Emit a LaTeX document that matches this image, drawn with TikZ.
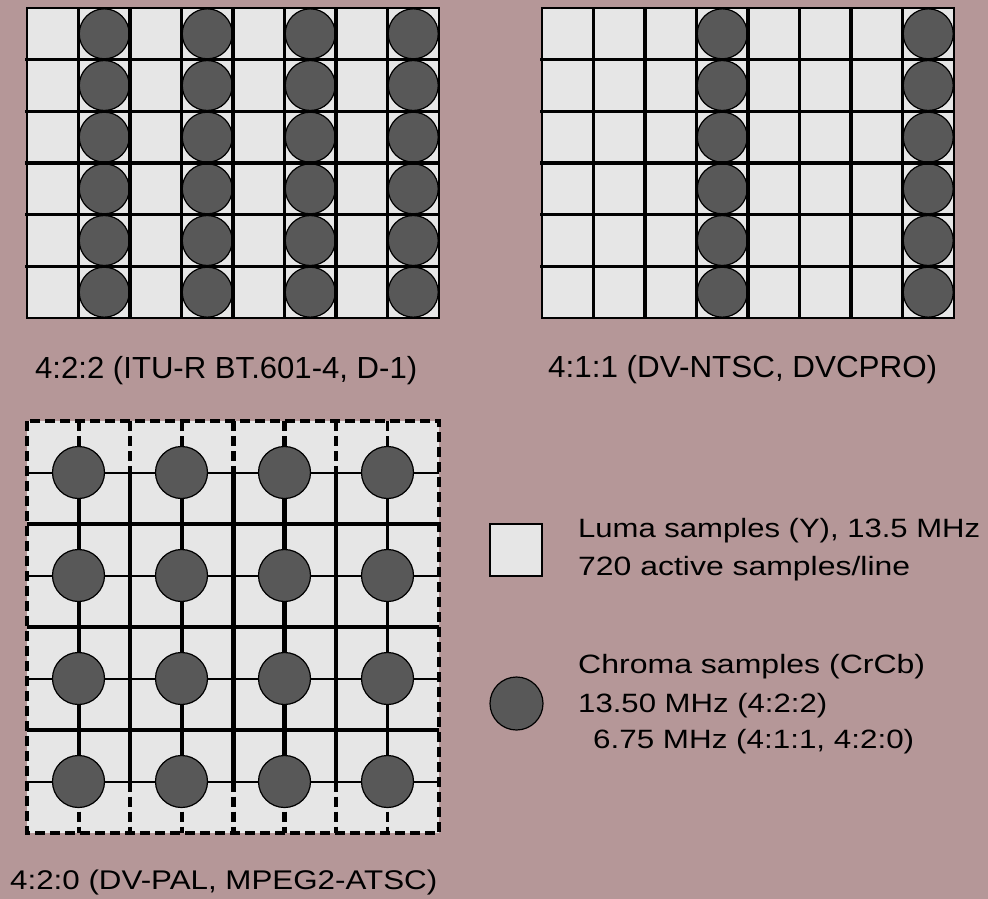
\documentclass[tikz,border=0pt]{standalone}
\usepackage{fontspec}
\setmainfont{Liberation Sans}
\usepackage{graphicx}
\definecolor{bg}{RGB}{181,151,152}
\definecolor{cellgray}{RGB}{230,230,230}
\definecolor{chroma}{RGB}{88,88,88}
\newcommand{\fitto}[3]{\resizebox{#1}{\height}{\fontsize{#2}{#2}\selectfont #3}}
\begin{document}
\begin{tikzpicture}[x=1pt,y=-1pt,
  lbl/.style={inner sep=0pt, anchor=base west, text=black},
  chr/.style={fill=chroma, draw=black, line width=1.2pt},
  gline/.style={draw=black, line width=3.6pt},
  dashline/.style={draw=black, dash pattern=on 10pt off 5pt},
  ]
\fill[bg] (0,0) rectangle (988,899);
\useasboundingbox (0,0) rectangle (988,899);

% ---- top panels ----
\foreach \sx/\cols in {0/{1,3,5,7}, 515/{3,7}} {
  \begin{scope}[xshift=\sx pt]
    \fill[cellgray] (27,8) rectangle (439,318);
    \foreach \c in \cols {
      \foreach \r in {0,...,5} {
        \draw[chr] ({27+51.5*\c+25.75},{8+51.67*\r+25.83}) circle[radius=25pt];
      }
    }
    \foreach \k in {1,...,7} \draw[gline] ({27+51.5*\k},8) -- ({27+51.5*\k},318);
    \foreach \k in {1,...,5} \draw[gline] (25,{8+51.67*\k}) -- (439,{8+51.67*\k});
    \draw[line width=2pt] (27,8) rectangle (439,318);
  \end{scope}
}

% ---- bottom panel ----
\fill[cellgray] (27,421) rectangle (439,833);
\foreach \k/\w in {1/2,2/3.6,3/2,4/3.6,5/2,6/3.6,7/2}
  \draw[draw=black, line width=\w pt] (27,{421+51.5*\k}) -- (439,{421+51.5*\k});
\foreach \k/\w in {1/4,2/3.6,3/4,4/5,5/5,6/3.6,7/3} {
  \draw[draw=black, line width=\w pt] ({27+51.5*\k},472.5) -- ({27+51.5*\k},781.5);
  \draw[dashline, line width=\w pt] ({27+51.5*\k},421) -- ({27+51.5*\k},472.5);
  \draw[dashline, line width=\w pt] ({27+51.5*\k},781.5) -- ({27+51.5*\k},833);
}
\draw[dashline, line width=3.6pt] (27,421) rectangle (439,833);
\foreach \i in {1,3,5,7} {
  \foreach \j in {1,3,5,7} {
    \draw[chr] ({27+51.5*\i},{421+51.5*\j}) circle[radius=26pt];
  }
}

% ---- captions ----
\node[lbl] (cap1) at (35,378) {\fitto{382pt}{30.5}{4:2:2 (ITU-R BT.601-4, D-1)}};
\node[lbl] (cap2) at (548,377) {\fitto{389pt}{30.5}{4:1:1 (DV-NTSC, DVCPRO)}};
\node[lbl] (cap3) at (10,889) {\fitto{427pt}{27}{4:2:0 (DV-PAL, MPEG2-ATSC)}};

% ---- legend ----
\draw[fill=cellgray, draw=black, line width=1.2pt] (490,524) rectangle (542,576);
\draw[chr] (516.5,703.5) circle[radius=26.5pt];
\node[lbl] (luma1) at (578,537) {\fitto{402pt}{26.5}{Luma samples (Y), 13.5 MHz}};
\node[lbl] (luma2) at (578,575) {\fitto{332pt}{26.5}{720 active samples/line}};
\node[lbl] (chr1) at (578,673) {\fitto{347pt}{26.5}{Chroma samples (CrCb)}};
\node[lbl] (chr2) at (578,712) {\fitto{249pt}{26.5}{13.50 MHz (4:2:2)}};
\node[lbl] (chr3) at (593,748) {\fitto{321pt}{26.5}{6.75 MHz (4:1:1, 4:2:0)}};
\end{tikzpicture}
\end{document}
